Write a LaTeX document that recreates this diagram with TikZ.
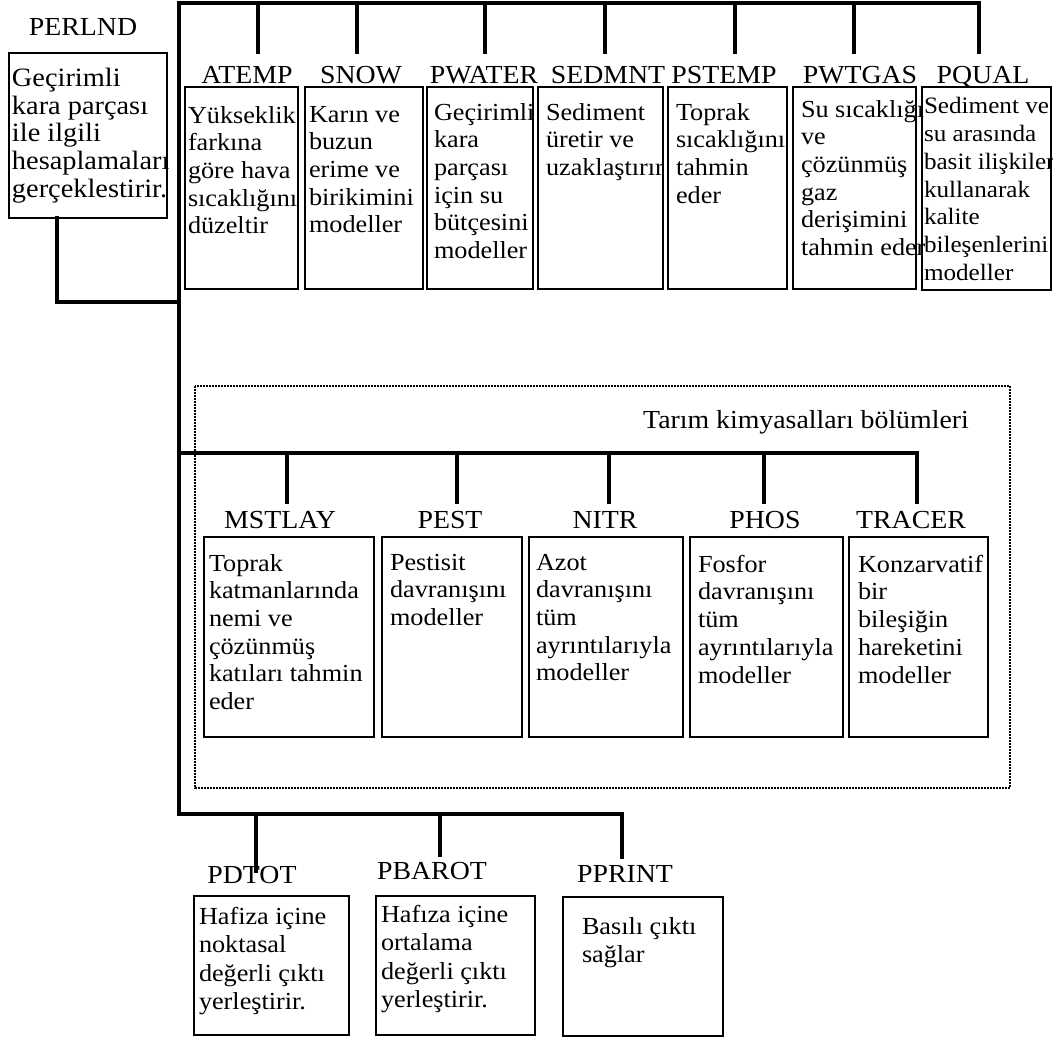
\documentclass[tikz,border=0pt]{standalone}
\usepackage{fontspec}
\setmainfont{Liberation Serif}[FakeStretch=1.07]
\tikzset{
  bus/.style={line width=4pt, line cap=rect, line join=miter},
  boxst/.style={draw, line width=2pt, inner sep=0pt, outer sep=0pt},
  txt/.style={inner sep=0pt, outer sep=0pt, align=left, font=\fontsize{24.5}{27.7}\selectfont},
  txtb/.style={txt, font=\fontsize{24.5}{28.5}\selectfont},
  txtp/.style={txt, font=\fontsize{26.5}{27.8}\selectfont},
  txtq/.style={txt, font=\fontsize{23.5}{27.9}\selectfont},
  lbl/.style={inner sep=0pt, anchor=base, font=\fontsize{26}{30}\selectfont},
  dotbox/.style={line width=2pt, dash pattern=on 1.6pt off 1.4pt}
}
% name, x1, y1, x2, y2, dx, dy, text style, text
\newcommand\tbox[9]{%
  \node[boxst, anchor=north west, minimum width={(#4-#2)*1pt}, minimum height={(#5-#3)*1pt}] (#1) at (#2,#3) {};
  \node[#8, anchor=north west] (#1t) at ([shift={(#6pt,-#7pt)}]#1.north west) {#9};
}
\begin{document}
\begin{tikzpicture}[x=1pt,y=-1pt]
\useasboundingbox (0,0) rectangle (1053,1037);

% dotted agrochemical frame
\draw[dotbox] (195,386) rectangle (1010,788);

% labels
\node[lbl] (lPERLND) at (83,35) {PERLND};
\node[lbl] (lATEMP) at (247,83) {ATEMP};
\node[lbl] (lSNOW) at (361,83) {SNOW};
\node[lbl] (lPWATER) at (484,83) {PWATER};
\node[lbl] (lSEDMNT) at (608,83) {SEDMNT};
\node[lbl] (lPSTEMP) at (724,83) {PSTEMP};
\node[lbl] (lPWTGAS) at (860,83) {PWTGAS};
\node[lbl] (lPQUAL) at (983,83) {PQUAL};
\node[lbl] (lTARIM) at (806,428) {Tarım kimyasalları bölümleri};
\node[lbl] (lMSTLAY) at (280,528) {MSTLAY};
\node[lbl] (lPEST) at (450,528) {PEST};
\node[lbl] (lNITR) at (605,528) {NITR};
\node[lbl] (lPHOS) at (765,528) {PHOS};
\node[lbl] (lTRACER) at (911,528) {TRACER};
\node[lbl] (lPDTOT) at (252,883) {PDTOT};
\node[lbl] (lPBAROT) at (432,879) {PBAROT};
\node[lbl] (lPPRINT) at (625,882) {PPRINT};

% boxes
\tbox{bPERLND}{9}{53}{167}{218}{3}{15}{txtp}{Geçirimli\\kara parçası\\ile ilgili\\hesaplamaları\\gerçeklestirir.}
\tbox{bATEMP}{185}{87}{298}{289}{3}{19}{txt}{Yükseklik\\farkına\\göre hava\\sıcaklığını\\düzeltir}
\tbox{bSNOW}{305}{87}{423}{289}{4}{19}{txt}{Karın ve\\buzun\\erime ve\\birikimini\\modeller}
\tbox{bPWATER}{427}{87}{533}{289}{7}{16}{txt}{Geçirimli\\kara\\parçası\\için su\\bütçesini\\modeller}
\tbox{bSEDMNT}{538}{87}{663}{289}{8}{16}{txt}{Sediment\\üretir ve\\uzaklaştırır}
\tbox{bPSTEMP}{668}{87}{787}{289}{8}{16}{txt}{Toprak\\sıcaklığını\\tahmin\\eder}
\tbox{bPWTGAS}{793}{87}{916}{289}{8}{13}{txt}{Su sıcaklığı\\ve\\çözünmüş\\gaz\\derişimini\\tahmin eder}
\tbox{bPQUAL}{922}{87}{1051}{290}{2}{10}{txtq}{Sediment ve\\su arasında\\basit ilişkiler\\kullanarak\\kalite\\bileşenlerini\\modeller}

\tbox{bMSTLAY}{204}{537}{374}{737}{5}{17}{txt}{Toprak\\katmanlarında\\nemi ve\\çözünmüş\\katıları tahmin\\eder}
\tbox{bPEST}{382}{537}{522}{737}{8}{17}{txt}{Pestisit\\davranışını\\modeller}
\tbox{bNITR}{529}{537}{683}{737}{7}{17}{txt}{Azot\\davranışını\\tüm\\ayrıntılarıyla\\modeller}
\tbox{bPHOS}{690}{537}{843}{737}{8}{18}{txt}{Fosfor\\davranışını\\tüm\\ayrıntılarıyla\\modeller}
\tbox{bTRACER}{849}{537}{988}{737}{9}{18}{txt}{Konzarvatif\\bir\\bileşiğin\\hareketini\\modeller}

\tbox{bPDTOT}{194}{896}{349}{1035}{5}{11}{txtb}{Hafiza içine\\noktasal\\değerli çıktı\\yerleştirir.}
\tbox{bPBAROT}{376}{896}{535}{1035}{5}{9}{txtb}{Hafıza içine\\ortalama\\değerli çıktı\\yerleştirir.}
\tbox{bPPRINT}{563}{897}{723}{1036}{19}{20}{txtb}{Basılı çıktı\\sağlar}

% connector end coordinates
\coordinate (dATEMP) at (258,52);
\coordinate (dSNOW) at (357,52);
\coordinate (dPWATER) at (485,52);
\coordinate (dSEDMNT) at (605,52);
\coordinate (dPSTEMP) at (735,52);
\coordinate (dPWTGAS) at (854,52);
\coordinate (dPQUAL) at (979,52);
\coordinate (top) at (179,3);
\coordinate (spineBottom) at (179,814);
\coordinate (mid) at (179,453);
\coordinate (dMSTLAY) at (287,502);
\coordinate (dPEST) at (457,502);
\coordinate (dNITR) at (609,502);
\coordinate (dPHOS) at (764,502);
\coordinate (dTRACER) at (917,502);
\coordinate (dPDTOT) at (256,871);
\coordinate (dPBAROT) at (440,855);
\coordinate (dPPRINT) at (622,857);
\coordinate (perlndJoin) at (179,302);

% main buses
\draw[bus] (dPQUAL) |- (top) -- (spineBottom) -| (dPPRINT);
\foreach \n in {ATEMP,SNOW,PWATER,SEDMNT,PSTEMP,PWTGAS}
  \draw[bus] (d\n |- top) -- (d\n);
\draw[bus] (mid) -| (dTRACER);
\foreach \n in {MSTLAY,PEST,NITR,PHOS}
  \draw[bus] (d\n |- mid) -- (d\n);
\foreach \n in {PDTOT,PBAROT}
  \draw[bus] (d\n |- spineBottom) -- (d\n);
\draw[bus] ([xshift=48pt]bPERLND.south west) |- (perlndJoin);
\end{tikzpicture}
\end{document}
